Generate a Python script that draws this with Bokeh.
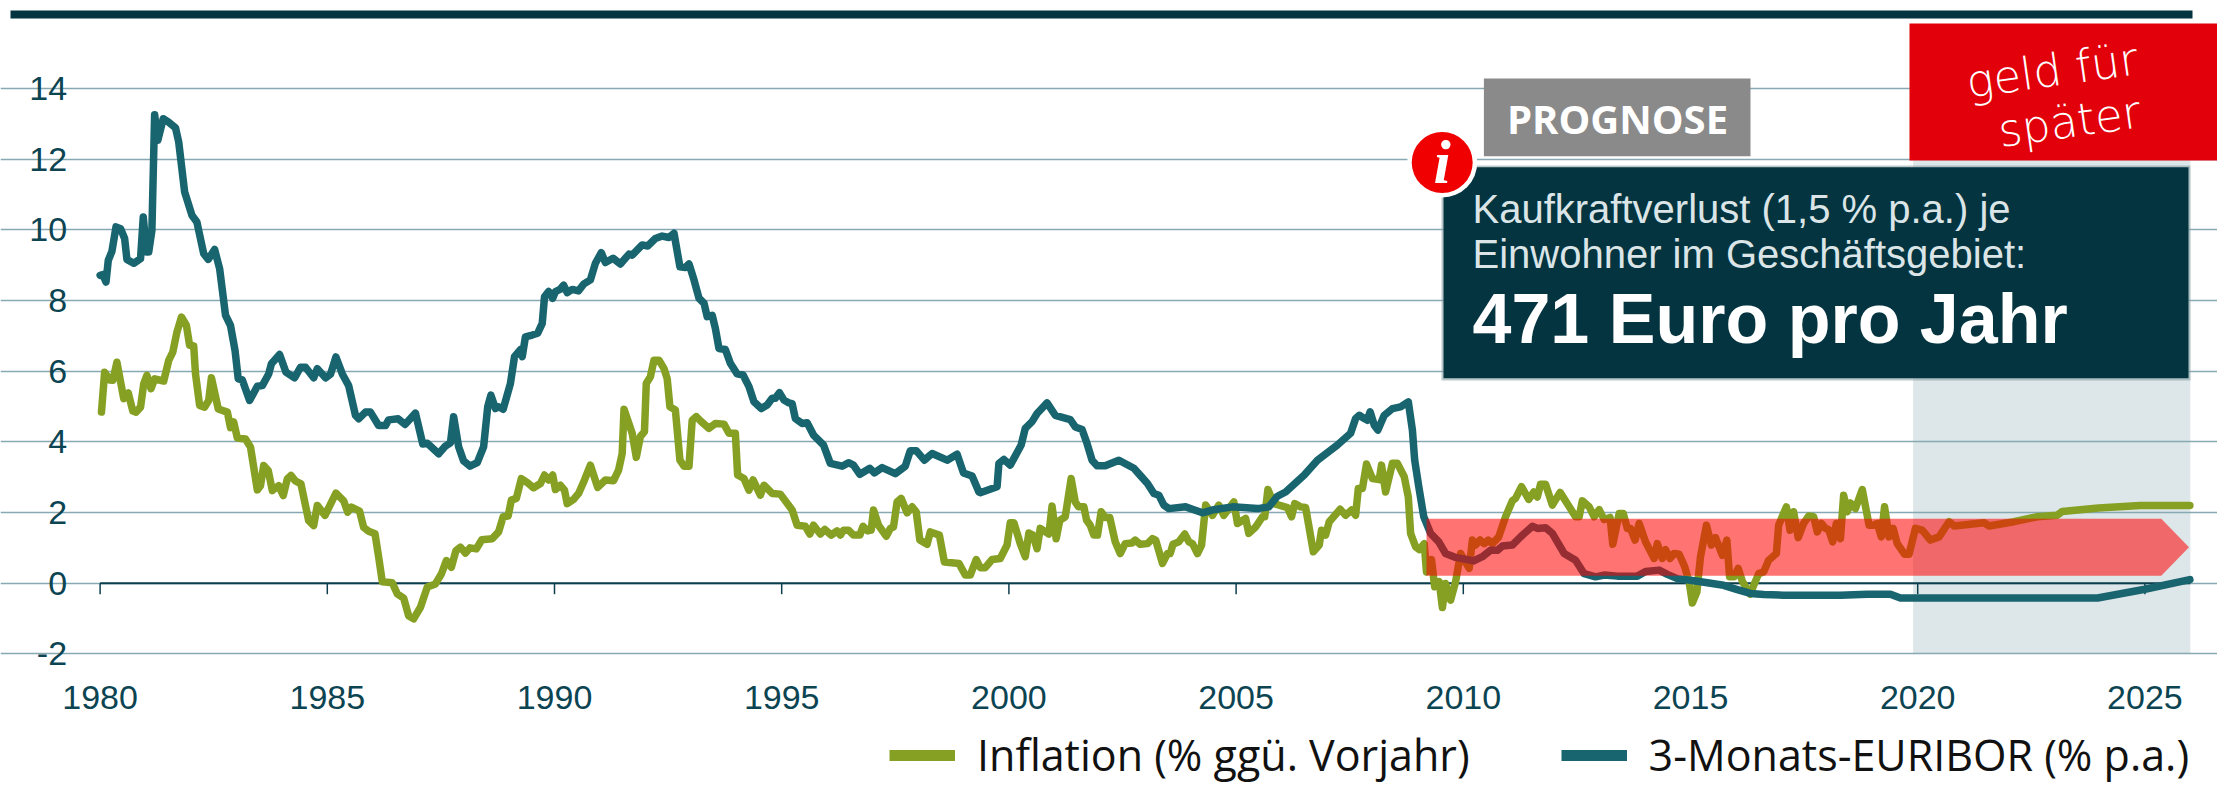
from bokeh.plotting import figure
from bokeh.models import Range1d, LinearAxis, FixedTicker, Legend, LegendItem, Grid
from bokeh.core.properties import value
from bokeh.embed import file_html
from bokeh.resources import INLINE

y_ticks = [-2, 0, 2, 4, 6, 8, 10, 12, 14]
x_ticks = [1980, 1985, 1990, 1995, 2000, 2005, 2010, 2015, 2020, 2025]
forecast_start = 2019.9
x_end = 2026

euribor_years = [
 1980.0,1980.06,1980.13,1980.18,1980.26,1980.35,1980.45,1980.54,1980.59,1980.74,1980.89,1980.95,1981.02,1981.07,1981.14,1981.20,1981.27,1981.39,1981.50,1981.66,1981.73,1981.86,1982.02,1982.13,1982.28,1982.38,1982.52,1982.63,1982.76,1982.87,1982.97,1983.04,
 1983.13,1983.29,1983.46,1983.57,1983.71,1983.77,1983.95,1984.09,1984.28,1984.41,1984.52,1984.70,1984.78,1984.96,1985.07,1985.19,1985.33,1985.47,1985.62,1985.69,1985.84,1985.95,1986.13,1986.28,1986.35,1986.56,1986.71,1986.94,1987.10,1987.20,1987.45,
 1987.60,1987.71,1987.78,1987.89,1988.0,1988.14,1988.30,1988.44,1988.53,1988.60,1988.70,1988.77,1988.87,1989.03,1989.12,1989.25,1989.29,1989.36,1989.51,1989.63,1989.73,1989.78,1989.87,1989.96,1990.02,1990.12,1990.20,1990.28,1990.39,1990.53,1990.64,1990.79,1990.90,1991.03,1991.12,1991.29,1991.45,1991.64,1991.71,1991.93,1992.05,1992.22,1992.37,1992.52,1992.63,1992.76,1992.88,1992.96,1993.07,1993.18,1993.29,1993.36,1993.47,1993.54,1993.62,1993.76,1993.87,1994.02,1994.15,1994.28,1994.39,1994.55,1994.68,1994.79,1994.86,1994.95,1995.05,1995.16,
 1995.23,1995.30,1995.45,1995.56,1995.70,1995.92,1996.07,1996.33,1996.47,1996.58,1996.72,1996.94,1997.04,1997.21,1997.50,1997.72,1997.83,1997.96,1998.14,1998.31,1998.64,1998.86,1999.0,1999.19,1999.34,1999.37,1999.74,1999.78,1999.89,2000.03,2000.27,2000.36,2000.51,2000.62,2000.84,2001.02,2001.35,2001.46,2001.61,2001.72,2001.83,2001.94,2002.12,2002.42,2002.75,2002.89,
 2003.05,2003.19,2003.30,2003.41,2003.52,2003.89,2004.07,2004.26,2004.51,2004.92,2005.47,2005.72,2005.91,2006.09,2006.50,2006.79,2007.23,2007.52,2007.63,2007.71,2007.82,2007.89,2007.95,2008.04,2008.12,2008.26,2008.44,2008.62,2008.79,2008.88,
 2008.93,2009.02,2009.13,2009.28,2009.46,2009.61,2009.83,2010.23,2010.42,2010.60,2010.75,2010.86,2011.08,2011.26,2011.52,2011.63,2011.81,2011.96,2012.22,2012.47,2012.66,2012.91,2013.10,2013.39,2013.83,2014.01,2014.31,2014.49,2014.71,2015.08,
 2015.73,2016.03,2016.32,2016.61,2017.05,2018.30,2018.89,2019.40,2019.62,2019.92,2023.96,2025.0,2025.99]
euribor_values = [
 8.71,8.73,8.52,9.13,9.39,10.08,10.03,9.75,9.16,9.05,9.18,10.36,9.37,9.37,9.98,13.25,12.53,13.14,13.05,12.88,12.48,11.07,10.41,10.22,9.32,9.16,9.44,8.90,7.58,7.29,6.58,5.78,
 5.75,5.17,5.57,5.59,5.92,6.21,6.47,5.97,5.81,6.11,6.11,5.81,6.07,5.81,5.91,6.40,5.92,5.59,4.75,4.65,4.84,4.84,4.46,4.46,4.62,4.65,4.49,4.81,3.94,3.96,3.66,
 3.88,3.97,4.71,3.86,3.46,3.31,3.41,3.86,4.99,5.32,4.94,4.99,4.92,5.65,6.41,6.61,6.41,6.97,7.02,7.07,7.35,8.10,8.25,8.06,8.25,8.31,8.43,8.22,8.31,8.27,8.46,8.58,9.05,9.35,9.07,9.19,9.03,9.31,9.28,9.57,9.54,9.75,9.82,9.78,9.90,8.95,8.93,9.03,8.58,8.06,7.92,7.54,7.58,7.21,6.64,6.61,6.22,5.92,5.89,5.56,5.13,4.94,5.04,5.23,5.23,5.39,5.18,5.10,
 5.08,4.66,4.52,4.54,4.19,3.91,3.39,3.31,3.41,3.34,3.08,3.25,3.12,3.27,3.10,3.31,3.75,3.75,3.48,3.67,3.48,3.65,3.12,3.03,2.58,2.56,2.73,3.39,3.50,3.34,3.91,4.38,4.57,4.80,5.10,4.75,4.63,4.42,4.35,3.95,3.48,3.32,3.32,3.48,3.25,3.05,
 2.82,2.54,2.49,2.21,2.11,2.16,2.08,1.99,2.08,2.16,2.11,2.16,2.46,2.58,3.06,3.48,3.91,4.24,4.66,4.75,4.66,4.61,4.85,4.47,4.33,4.75,4.94,4.99,5.13,4.33,
 3.48,2.73,1.88,1.41,1.17,0.84,0.73,0.63,0.75,0.93,0.93,1.05,1.08,1.31,1.61,1.55,1.57,1.41,0.84,0.65,0.27,0.18,0.23,0.20,0.20,0.33,0.37,0.25,0.13,0.07,
 -0.06,-0.18,-0.29,-0.32,-0.34,-0.34,-0.31,-0.31,-0.42,-0.42,-0.42,-0.17,0.10]

inflation_years = [
 1980.03,1980.10,1980.21,1980.28,1980.37,1980.52,1980.62,1980.72,1980.79,1980.89,1980.96,1981.03,1981.12,1981.20,1981.40,1981.51,1981.60,1981.69,1981.79,1981.90,1981.97,1982.06,1982.10,1982.19,1982.30,1982.39,1982.45,1982.60,1982.80,1982.87,1982.94,1983.02,1983.20,1983.31,1983.46,1983.53,1983.60,1983.70,1983.79,1983.93,1984.03,1984.12,1984.20,1984.30,1984.42,1984.59,1984.70,1984.78,1984.95,1985.19,1985.36,1985.45,1985.53,1985.71,1985.80,1985.91,1986.05,1986.13,1986.21,1986.43,1986.54,1986.68,1986.79,1986.90,1987.05,1987.20,1987.38,1987.51,
 1987.62,1987.73,1987.83,1987.93,1988.04,1988.14,1988.28,1988.40,1988.63,1988.77,1988.87,1988.98,1989.05,1989.16,1989.27,1989.41,1989.54,1989.69,1989.78,1989.87,1989.96,1990.02,1990.13,1990.22,1990.28,1990.42,1990.53,1990.66,1990.79,1990.95,1991.12,1991.30,1991.41,1991.49,1991.53,1991.71,1991.80,1991.89,1991.98,1992.02,1992.11,1992.19,1992.30,1992.41,1992.48,1992.54,1992.66,1992.76,1992.85,1992.96,1993.03,1993.12,1993.23,1993.40,1993.54,1993.73,1993.84,1993.98,1994.03,1994.17,1994.28,1994.37,1994.53,1994.61,1994.79,1994.97,
 1995.23,1995.34,1995.52,1995.62,1995.70,1995.85,1995.95,1996.09,1996.22,1996.29,1996.36,1996.47,1996.58,1996.72,1996.79,1996.89,1996.97,1997.02,1997.13,1997.30,1997.39,1997.46,1997.54,1997.63,1997.76,1997.87,1997.96,1998.04,1998.20,1998.27,1998.47,1998.58,1998.90,1999.04,1999.15,1999.28,1999.37,1999.48,1999.63,1999.81,1999.96,2000.03,2000.11,2000.25,2000.36,2000.44,2000.53,2000.62,2000.69,2000.88,2000.95,2001.04,2001.12,2001.24,2001.37,2001.46,2001.53,2001.65,2001.71,2001.79,2001.87,2001.95,2002.03,2002.12,2002.22,2002.34,2002.45,2002.56,2002.71,2002.78,2002.89,
 2003.05,2003.16,2003.23,2003.38,2003.49,2003.55,2003.61,2003.74,2003.87,2003.96,2004.04,2004.15,2004.24,2004.33,2004.48,2004.62,2004.73,2004.87,2004.95,2005.03,2005.21,2005.28,2005.43,2005.58,2005.63,2005.70,2005.83,2006.13,2006.22,2006.29,2006.42,2006.53,2006.70,2006.83,2006.88,2006.97,2007.05,2007.29,2007.41,2007.54,2007.63,2007.69,2007.78,2007.87,2008.0,2008.15,2008.20,2008.29,2008.44,2008.55,2008.70,2008.79,2008.84,2008.95,2009.03,2009.14,2009.19,2009.30,2009.37,2009.47,2009.54,2009.61,2009.72,2009.83,2009.94,2010.13,2010.20,2010.27,2010.37,2010.46,2010.55,
 2010.64,2010.78,2010.93,2011.08,2011.15,2011.28,2011.44,2011.55,2011.63,2011.70,2011.81,2011.96,2012.13,2012.29,2012.47,2012.55,2012.62,2012.77,2012.88,2012.99,2013.10,2013.23,2013.29,2013.43,2013.52,2013.61,2013.68,2013.78,2013.87,2014.01,2014.20,2014.27,2014.38,2014.45,2014.55,2014.64,2014.75,2014.87,2014.97,2015.04,2015.14,2015.22,2015.35,2015.46,2015.55,2015.70,2015.80,2015.86,2015.96,
 2016.05,2016.14,2016.31,2016.50,2016.61,2016.72,2016.89,2016.94,2017.11,2017.19,2017.27,2017.37,2017.49,2017.60,2017.71,2017.79,2017.88,2017.97,2018.04,2018.13,2018.21,2018.30,2018.37,2018.45,2018.52,2018.63,2018.78,2018.93,2019.03,2019.11,2019.20,2019.27,2019.37,2019.46,2019.55,2019.71,2019.81,2019.95,2020.10,2020.28,2020.47,2020.69,2020.80,2021.46,2021.57,2022.12,2022.63,2023.07,2023.18,2023.98,2024.90,2025.99]
inflation_values = [
 4.84,5.97,5.75,5.74,6.25,5.22,5.38,4.87,4.84,4.98,5.64,5.88,5.50,5.78,5.72,6.30,6.54,7.10,7.53,7.29,6.73,6.71,5.92,5.03,4.98,5.17,5.81,4.93,4.84,4.40,4.56,4.11,4.08,3.85,2.64,2.76,3.33,3.19,2.62,2.76,2.48,2.95,3.05,2.89,2.81,1.77,1.63,2.20,1.92,2.55,2.33,2.01,2.15,2.04,1.58,1.47,1.40,0.74,0.04,0.01,-0.30,-0.42,-0.92,-1.01,-0.68,-0.11,-0.02,0.26,
 0.64,0.45,0.92,1.02,0.85,1.0,0.97,1.23,1.26,1.45,1.88,1.90,2.35,2.40,2.96,2.84,2.70,2.82,3.06,2.92,3.06,2.65,2.77,2.63,2.25,2.37,2.54,2.92,3.34,2.71,2.92,2.90,3.20,3.67,4.92,4.24,3.56,4.15,4.29,5.65,5.84,6.31,6.31,6.07,5.79,4.99,4.90,3.48,3.31,3.31,4.61,4.71,4.57,4.38,4.52,4.50,4.24,4.24,3.06,2.96,2.63,2.92,2.49,2.77,2.54,2.52,
 2.07,1.64,1.61,1.39,1.64,1.39,1.52,1.36,1.48,1.36,1.50,1.50,1.36,1.36,1.61,1.48,1.50,2.07,1.64,1.33,1.55,1.59,2.30,2.40,1.99,2.16,2.02,1.22,1.10,1.45,1.36,0.60,0.56,0.23,0.23,0.67,0.44,0.44,0.67,0.70,1.08,1.71,1.71,1.12,0.75,1.42,1.36,0.98,1.55,1.39,2.18,1.26,1.78,1.88,2.96,2.30,2.16,2.16,1.78,1.64,1.36,1.36,2.02,1.86,1.86,1.17,0.84,1.12,1.14,1.22,1.10,
 1.12,1.26,1.22,0.56,0.84,0.84,1.10,1.17,1.39,1.17,1.12,0.84,1.08,2.21,1.92,2.21,1.92,2.16,2.30,1.69,1.83,1.41,1.59,1.88,1.88,2.65,2.25,2.14,1.88,2.25,2.16,2.14,0.89,1.08,1.50,1.36,1.74,2.09,1.92,2.07,1.92,2.68,2.68,3.37,2.96,2.93,3.34,2.58,3.39,3.39,3.01,2.44,1.41,1.03,0.95,1.12,0.32,0.67,-0.10,0.04,-0.69,-0.01,-0.48,0.04,0.84,0.42,1.22,1.08,1.22,1.12,1.22,
 1.12,1.31,1.88,2.33,2.40,2.73,2.37,2.58,2.44,2.80,2.80,2.21,2.57,2.25,1.88,1.88,2.33,2.16,1.88,2.08,1.80,1.86,1.10,1.97,1.97,1.55,1.55,1.22,1.69,1.17,0.70,1.12,0.70,0.95,0.70,0.84,0.82,0.47,0.04,-0.56,-0.25,0.75,1.64,1.08,1.29,0.79,1.22,0.18,0.18,
 0.42,0.06,-0.31,0.27,0.32,0.65,0.84,1.64,2.16,1.50,2.02,1.29,1.69,1.90,1.88,1.45,1.69,1.55,1.52,1.17,1.69,1.26,2.49,2.02,2.27,2.11,2.65,1.64,1.64,1.69,1.31,2.16,1.31,1.55,1.12,0.82,0.82,1.55,1.50,1.22,1.31,1.74,1.62,1.71,1.62,1.74,1.88,1.92,2.03,2.13,2.20,2.20]

arrow_years = [2009.19, 2025.36, 2025.97, 2025.36, 2009.19]
arrow_values = [1.82, 1.82, 1.02, 0.21, 0.21]

W, H = 2217, 785
PX_YEAR, PX_UNIT = 45.44, 35.35
X0, Y0 = 99.6, 582.7
def xp(px): return 1980 + (px - X0) / PX_YEAR
def yp(px): return (Y0 - px) / PX_UNIT

TEAL, OLIVE, INK = "#18646f", "#86a024", "#0c4452"
DARK = "#03343f"

p = figure(width=W, height=H, output_backend="svg", toolbar_location=None,
           x_range=Range1d(xp(0), xp(W)), y_range=Range1d(yp(H), yp(0)),
           min_border=0, x_axis_type=None, y_axis_type=None, outline_line_color=None)

# y axis + grid
ya = LinearAxis(ticker=FixedTicker(ticks=y_ticks), fixed_location=1980, axis_line_color=None,
                major_tick_line_color=None, minor_tick_line_color=None,
                major_label_text_font="Liberation Sans", major_label_text_font_size="34px",
                major_label_text_color=INK, major_label_standoff=27,
                major_label_overrides={-2: "-2"})
p.add_layout(ya, "left")
grid = Grid(dimension=1, ticker=FixedTicker(ticks=y_ticks), grid_line_color="#86a9b2",
            grid_line_width=1.5, bounds=(1980, x_end), level="image")
p.add_layout(grid, "center")

# forecast shade (above the grid, under the axis)
p.quad(left=[forecast_start], right=[x_end], top=[yp(160)], bottom=[-2], fill_color="#dde6e8",
       line_color=None, level="image")

# x axis: labels along the bottom, ticks and line at zero
xl = LinearAxis(ticker=FixedTicker(ticks=x_ticks), fixed_location=-2, axis_line_color=None,
                major_tick_line_color=None, minor_tick_line_color=None,
                major_label_text_font="Liberation Sans", major_label_text_font_size="34px",
                major_label_text_color=INK, major_label_standoff=26)
p.add_layout(xl, "below")
p.segment(x0=[1980], y0=[0], x1=[x_end], y1=[0], line_color="#0c3f4c", line_width=2, level="underlay")
p.segment(x0=x_ticks, y0=[0] * len(x_ticks), x1=x_ticks, y1=[yp(Y0 + 11)] * len(x_ticks),
          line_color="#0c3f4c", line_width=1.5, level="underlay")

# series
p.line(inflation_years, inflation_values, line_color=OLIVE, line_width=7.5, line_join="round", line_cap="round")
p.line(euribor_years, euribor_values, line_color=TEAL, line_width=7.5, line_join="round", line_cap="round")

# red range arrow
p.patch(arrow_years, arrow_values, fill_color="#ff0000", fill_alpha=0.55, line_color=None)

# boxes
p.quad(left=[xp(1441)], right=[xp(2190)], top=[yp(165)], bottom=[yp(380)], fill_color="#8ea3a8",
       fill_alpha=0.6, line_color=None)
p.quad(left=[xp(1443)], right=[xp(2188)], top=[yp(166.7)], bottom=[yp(377.7)], fill_color=DARK, line_color=None)
p.quad(left=[xp(1483.4)], right=[xp(1750)], top=[yp(78)], bottom=[yp(155.7)], fill_color="#8a8a8a", line_color=None)
p.quad(left=[xp(1909)], right=[xp(2225)], top=[yp(23)], bottom=[yp(160)], fill_color="#e2000b", line_color=None)
p.quad(left=[xp(10)], right=[xp(2192)], top=[yp(10)], bottom=[yp(18)], fill_color=DARK, line_color=None)

def txt(px, py, s, font, size, color="#ffffff", style="normal", align="left", angle=0.0):
    fs = float(size[:-2])
    p.text(x=[xp(px)], y=[yp(py - 0.33 * fs)], text=[s], text_font=value(font), text_font_size=size,
           text_color=color, text_font_style=style, text_align=align, text_baseline="alphabetic", angle=angle)

txt(1617, 131.5, "PROGNOSE", "Open Sans", "40px", style="bold", align="center")
txt(1472, 221.7, "Kaufkraftverlust (1,5 % p.a.) je", "Liberation Sans", "40px", color="#dbe5e7")
txt(1472, 267, "Einwohner im Geschäftsgebiet:", "Liberation Sans", "40px", color="#dbe5e7")
txt(1472, 341.7, "471 Euro pro Jahr", "Liberation Sans", "70px", style="bold")

p.scatter(x=[xp(1441.7)], y=[yp(162)], size=70, fill_color="#ffffff", line_color=None)
p.scatter(x=[xp(1441.7)], y=[yp(162)], size=61, fill_color="#f00000", line_color=None)
txt(1441.7, 182, "i", "Liberation Serif", "62px", style="bold italic", align="center")

txt(1966, 97, "geld für", "DejaVu Sans Light", "45px", angle=0.14)
txt(1998, 146, "später", "DejaVu Sans Light", "45px", angle=0.14)

# legend
nan = float("nan")
l1 = p.line([nan], [nan], line_color=OLIVE, line_width=11)
l2 = p.line([nan], [nan], line_color=TEAL, line_width=11)
legend = Legend(items=[LegendItem(label="Inflation (% ggü. Vorjahr)", renderers=[l1]),
                       LegendItem(label="3-Monats-EURIBOR (% p.a.)", renderers=[l2])],
                orientation="horizontal", location=(889, 1), margin=0, padding=0,
                background_fill_alpha=0, border_line_alpha=0, glyph_width=66, glyph_height=20,
                label_standoff=22, spacing=91, label_text_font="Open Sans",
                label_text_font_size="43px", label_text_color="#111111")
p.add_layout(legend, "center")

open("out.html", "w").write(file_html(p, INLINE))
